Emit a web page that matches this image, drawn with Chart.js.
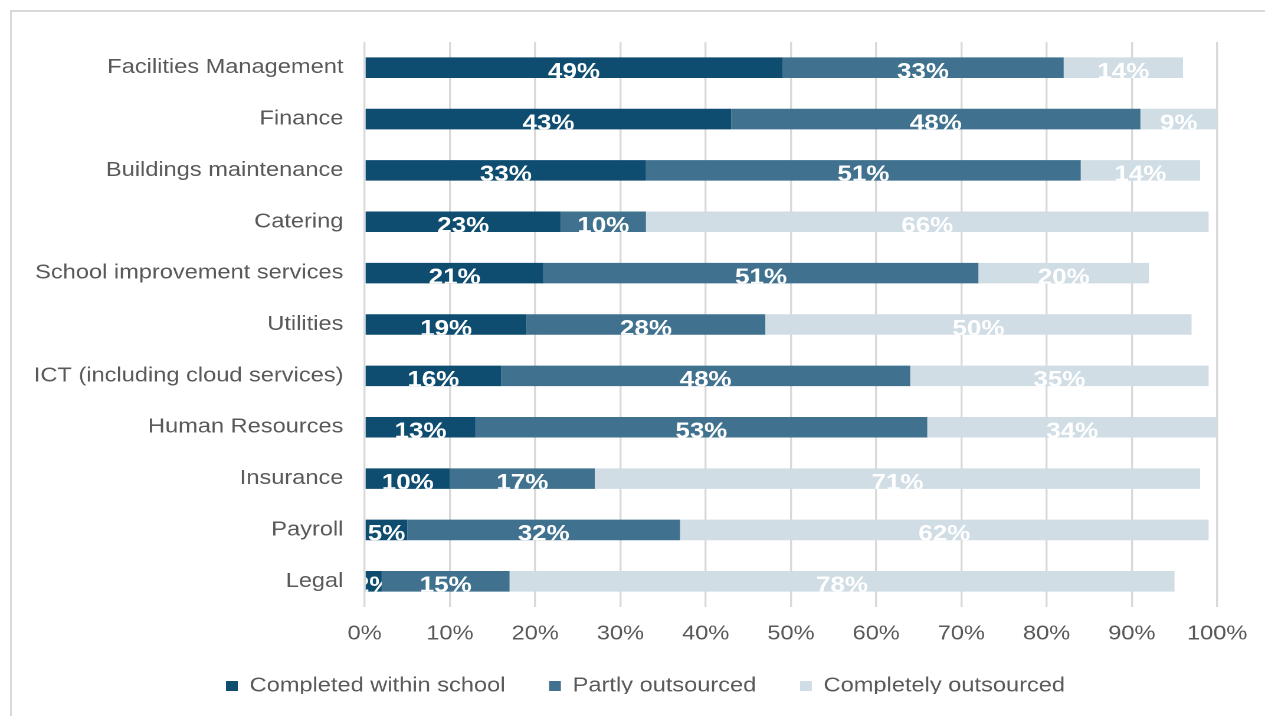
<!DOCTYPE html>
<html>
<head>
<meta charset="utf-8">
<script src="https://cdn.jsdelivr.net/npm/chart.js@4"></script>
<style>
  html, body { margin: 0; padding: 0; background: #fff; overflow: hidden; }
  #wrap { position: relative; width: 1265px; height: 716px; }
  #frame { position: absolute; left: 10px; top: 10px; width: 1265px; height: 716px;
           border: 2px solid #d9d9d9; box-sizing: border-box; }
  /* the chart is laid out on a narrower canvas and stretched to full width */
  #stretch { position: absolute; left: 0; top: 0; width: 1072px; height: 716px;
             transform: scaleX(1.18004); transform-origin: 0 0; }
</style>
</head>
<body>
<div id="wrap">
  <div id="frame"></div>
  <div id="stretch"><canvas id="outsourcingChart" width="1072" height="716"></canvas></div>
</div>
<script>
const services = [
  'Facilities Management', 'Finance', 'Buildings maintenance', 'Catering',
  'School improvement services', 'Utilities', 'ICT (including cloud services)',
  'Human Resources', 'Insurance', 'Payroll', 'Legal'
];
const withinSchool = [49, 43, 33, 23, 21, 19, 16, 13, 10, 5, 2];
const partlyOut = [33, 48, 51, 10, 51, 28, 48, 53, 17, 32, 15];
const completelyOut = [14, 9, 14, 66, 20, 50, 35, 34, 71, 62, 78];
const xTicks = [0, 10, 20, 30, 40, 50, 60, 70, 80, 90, 100];

const FONT = '"Liberation Sans", Arial, sans-serif';

// white value text in each segment, clipped to the segment
const segmentLabels = {
  id: 'segmentLabels',
  afterDatasetsDraw(chart) {
    const ctx = chart.ctx;
    chart.data.datasets.forEach((ds, i) => {
      const meta = chart.getDatasetMeta(i);
      meta.data.forEach((bar, j) => {
        const v = ds.data[j];
        const left = Math.min(bar.x, bar.base);
        const w = Math.abs(bar.x - bar.base);
        const top = bar.y - bar.height / 2;
        ctx.save();
        ctx.beginPath();
        ctx.rect(left, top, w, bar.height);
        ctx.clip();
        ctx.fillStyle = '#ffffff';
        ctx.font = 'bold 22px ' + FONT;
        ctx.textAlign = 'center';
        ctx.textBaseline = 'alphabetic';
        ctx.fillText(v + '%', left + w / 2, top + bar.height + 0.5);
        ctx.restore();
      });
    });
  }
};

// short legend box so the plot runs further down, then lift the legend back up
const legendSpot = {
  id: 'legendSpot',
  beforeInit(chart) {
    const fit = chart.legend.fit;
    chart.legend.fit = function () {
      fit.call(this);
      this.height = 55;
    };
  },
  afterLayout(chart) {
    const lg = chart.legend;
    lg.top -= 22;
    lg.bottom -= 22;
    lg.left += 31;
    lg.right += 31;
  }
};

const ctx = document.getElementById('outsourcingChart');
new Chart(ctx, {
  type: 'bar',
  data: {
    labels: services,
    datasets: [
      { label: 'Completed within school', data: withinSchool, backgroundColor: '#0f4d70' },
      { label: 'Partly outsourced', data: partlyOut, backgroundColor: '#40728f' },
      { label: 'Completely outsourced', data: completelyOut, backgroundColor: '#d0dde5' }
    ]
  },
  options: {
    indexAxis: 'y',
    responsive: false,
    animation: false,
    devicePixelRatio: 2,
    datasets: { bar: { barPercentage: 0.8, categoryPercentage: 0.5 } },
    layout: { padding: { top: 42, right: 40, bottom: 0, left: 0 } },
    scales: {
      x: {
        stacked: true,
        min: 0,
        max: 100,
        afterBuildTicks: scale => { scale.ticks = xTicks.map(v => ({ value: v })); },
        border: { display: false },
        grid: { color: '#d9d9d9', lineWidth: 1.7, drawTicks: false },
        ticks: {
          padding: 15,
          color: '#595959',
          font: { family: FONT, size: 20 },
          callback: v => v + '%'
        }
      },
      y: {
        stacked: true,
        afterFit: scale => { scale.width = 309; },
        border: { display: false },
        grid: { display: false },
        ticks: {
          padding: 10,
          color: '#595959',
          font: { family: FONT, size: 20 }
        }
      }
    },
    plugins: {
      tooltip: { enabled: false },
      legend: {
        position: 'bottom',
        labels: {
          boxWidth: 10,
          boxHeight: 10,
          padding: 37,
          color: '#595959',
          font: { family: FONT, size: 20 }
        }
      }
    }
  },
  plugins: [segmentLabels, legendSpot]
});
</script>
</body>
</html>
